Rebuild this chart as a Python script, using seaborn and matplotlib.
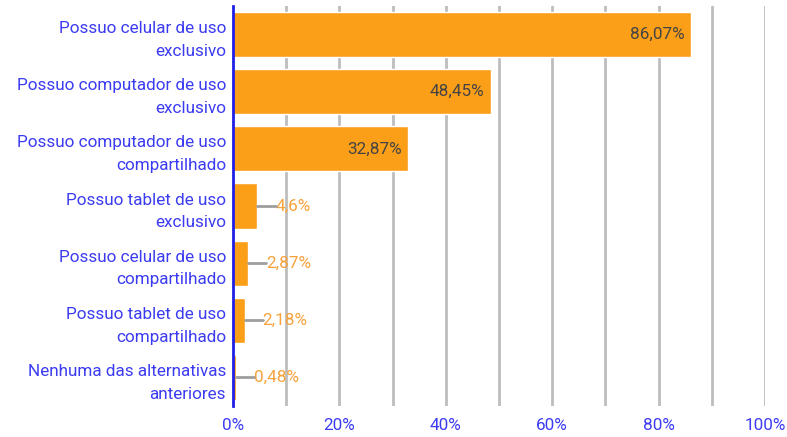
import pandas as pd
import matplotlib.pyplot as plt
import seaborn as sns

# dados do gráfico
categorias = [
    "Possuo celular de uso\nexclusivo",
    "Possuo computador de uso\nexclusivo",
    "Possuo computador de uso\ncompartilhado",
    "Possuo tablet de uso\nexclusivo",
    "Possuo celular de uso\ncompartilhado",
    "Possuo tablet de uso\ncompartilhado",
    "Nenhuma das alternativas\nanteriores",
]
valores = [86.07, 48.45, 32.87, 4.6, 2.87, 2.18, 0.48]
rotulos = ["86,07%", "48,45%", "32,87%", "4,6%", "2,87%", "2,18%", "0,48%"]
ticks_x = [0, 20, 40, 60, 80, 100]

df = pd.DataFrame({"cat": categorias, "val": valores})

sns.set_style("white")
plt.rcParams["font.family"] = ["Roboto", "DejaVu Sans"]

azul = "#3b3bf2"
laranja = "#fb9e18"
fs = 12.3

fig = plt.figure(figsize=(7.87, 4.37), dpi=100)
ax = fig.add_axes([0.296, 0.071, 0.676, 0.915])

sns.barplot(data=df, x="val", y="cat", orient="h", color=laranja,
            saturation=1, width=0.79, ax=ax)

# linhas de grade verticais a cada 10%
for g in range(10, 101, 10):
    ax.axvline(g, color="#bdbdbd", lw=2, zorder=0)

ax.set_xticks(ticks_x)
ax.set_xticklabels([f"{t}%" for t in ticks_x], color=azul, fontsize=fs)
ax.tick_params(axis="x", length=0, pad=9)
ax.tick_params(axis="y", length=0, pad=5, labelcolor=azul, labelsize=fs)
for lbl in ax.get_yticklabels():
    lbl.set_linespacing(1.65)
ax.set_xlabel("")
ax.set_ylabel("")

for s in ["top", "right", "bottom"]:
    ax.spines[s].set_visible(False)
ax.spines["left"].set_color("#1f1fe6")
ax.spines["left"].set_linewidth(2)
ax.spines["left"].set_zorder(5)

# rótulos de valores
for i, (v, r) in enumerate(zip(valores, rotulos)):
    if v > 20:
        ax.text(v - 1.2, i, r, ha="right", va="center", color="#444444",
                fontsize=fs)
    else:
        ax.plot([v, v + 3.4], [i, i], color="#9e9e9e", lw=2, zorder=4)
        ax.text(v + 3.4, i, r, ha="left", va="center", color="#f7a23c",
                fontsize=fs)

ax.set_xlim(0, 100)
ax.set_ylim(len(categorias) - 0.5, -0.5)

plt.savefig("out.png", dpi=100)
